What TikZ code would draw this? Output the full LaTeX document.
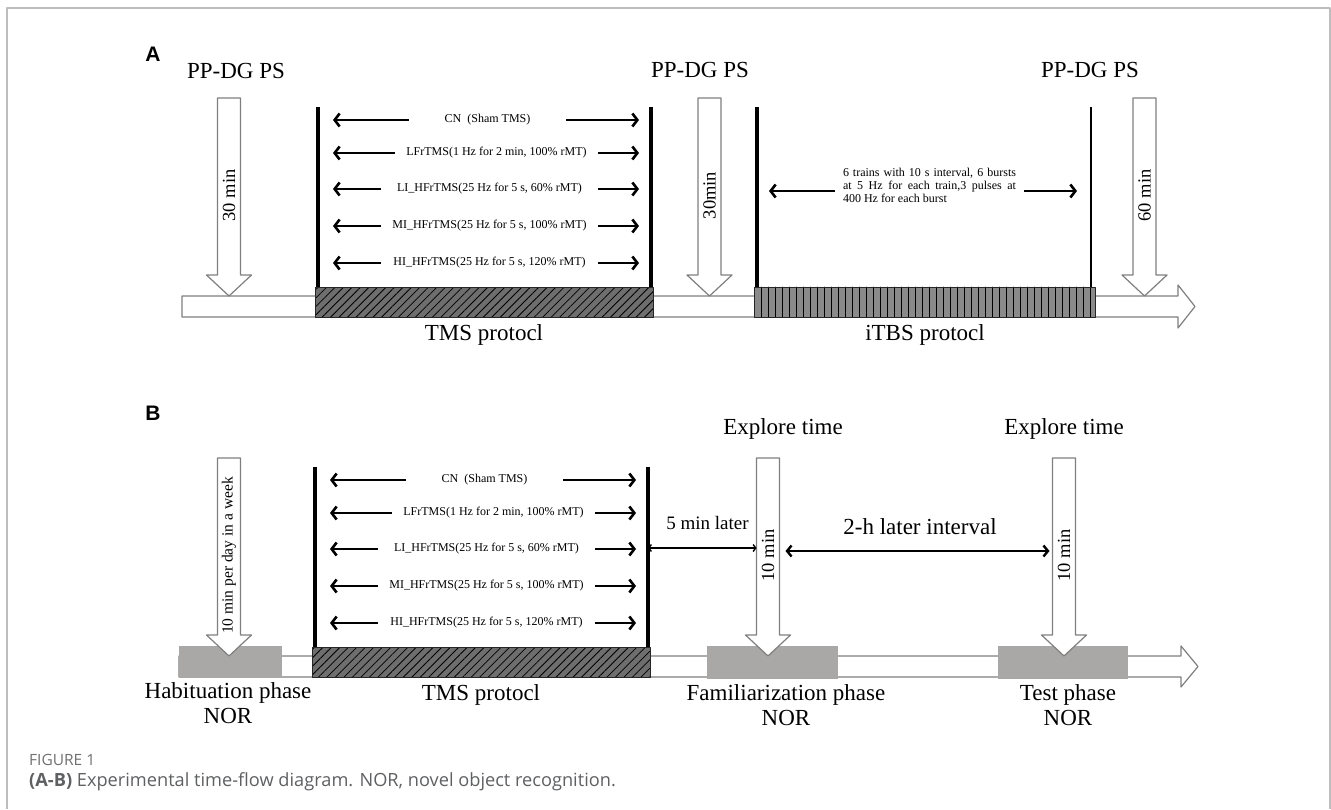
\documentclass[tikz,border=0pt]{standalone}
\usepackage{fontspec}
\setmainfont{Liberation Serif}
\newfontfamily\panelfont{Liberation Sans}
\newfontfamily\capfont{Open Sans}
\usepackage{xcolor}
\usetikzlibrary{arrows.meta,patterns.meta}
\definecolor{framegray}{HTML}{BDBDBD}
\definecolor{edgegray}{HTML}{7F7F7F}
\definecolor{phasegray}{HTML}{AAA7A7}
\definecolor{hatchgray}{HTML}{6E6E6E}
\definecolor{burstgray}{HTML}{8A8A8A}
\definecolor{capgray}{HTML}{5F6062}
\tikzset{
  every picture/.style={line join=round, line cap=round, >=Stealth},
  bigtext/.style={font=\fontsize{23}{25}\selectfont},
  midtext/.style={font=\fontsize{19}{21}\selectfont},
  droptext/.style={font=\fontsize{18.5}{20}\selectfont, inner sep=0pt},
  rowtext/.style={font=\fontsize{12}{13}\selectfont, inner sep=0pt},
  paneltag/.style={font=\panelfont\bfseries\fontsize{21}{23}\selectfont},
  timeline/.style={draw=edgegray, fill=white, line width=1.2pt},
  dropbox/.style={draw=edgegray, fill=white, line width=1.2pt},
  wall/.style={line width=3.2pt, line cap=butt},
  rowarrow/.style={line width=2.6pt, line cap=butt, -{Straight Barb[length=5pt,width=13pt]}},
  thinarrow/.style={line width=1.4pt, {Straight Barb[length=2.5pt,width=7pt]}-{Straight Barb[length=2.5pt,width=7pt]}},
  spanarrow/.style={line width=2.4pt, line cap=butt, {Straight Barb[length=4.5pt,width=11pt]}-{Straight Barb[length=4.5pt,width=11pt]}},
  barframe/.style={draw=black!85, line width=1pt},
}

% hollow arrow pointing down onto the time line: name, x, top, tip, text
\newcommand{\hollowdown}[5]{%
  \draw[dropbox] (#2-11.5,#3) -- (#2+11.5,#3) -- (#2+11.5,#4-21) -- (#2+22.5,#4-21)
    -- (#2,#4) -- (#2-22.5,#4-21) -- (#2-11.5,#4-21) -- cycle;
  \coordinate (#1w) at (#2-11.5,#3);
  \coordinate (#1e) at (#2+11.5,#3);
  \node[droptext, rotate=90] (#1) at (#2,{(#3+#4-21)/2+9}) {#5};}

% TMS protocol block (bar, two walls, five rows)
\newcommand{\tmsblock}[1]{%
  \fill[hatchgray] (315,287) rectangle (653,317);
  \fill[pattern={Lines[angle=45,distance=6pt,line width=0.8pt]}] (315,287) rectangle (653,317);
  \draw[barframe] (315,287) rectangle (653,317);
  \draw[wall] (318,107) coordinate (#1wl) -- (318,287);
  \draw[wall] (651,107) coordinate (#1wr) -- (651,287);
  \coordinate (#1tl) at (333,0);
  \coordinate (#1tr) at (639,0);
  \foreach \yy/\cx/\rw/\txt [count=\i] in {
      120/487.5/157/{CN\ \ (Sham TMS)},
      153/496.5/203/{LFrTMS(1 Hz for 2 min, 100\% rMT)},
      189/489.5/217/{LI\_HFrTMS(25 Hz for 5 s, 60\% rMT)},
      226/489.5/217/{MI\_HFrTMS(25 Hz for 5 s, 100\% rMT)},
      263/489.5/217/{HI\_HFrTMS(25 Hz for 5 s, 120\% rMT)}}
  {\node[rowtext, minimum width=\rw pt] (#1r\i) at (\cx,\yy) {\txt};
   \draw[rowarrow] (#1r\i.west) -- (#1r\i.west -| #1tl);
   \draw[rowarrow] (#1r\i.east) -- (#1r\i.east -| #1tr);}
  \node[bigtext] (#1bar) at (484,335) {TMS protocl};}

\begin{document}
\begin{tikzpicture}[x=1pt, y=-1pt]
\useasboundingbox (0,0) rectangle (1331,809);
\draw[framegray, line width=1.3pt, line cap=butt] (7,809) -- (7,8) -- (1330,8) -- (1330,809);

% panel A
\node[paneltag] (tagA) at (153,54) {A};
\draw[timeline] (182,296) -- (1178,296) -- (1178,285) -- (1195,306.5) -- (1178,328)
  -- (1178,317) -- (182,317) -- cycle;
\tmsblock{A}
\fill[burstgray] (754,287) rectangle (1095,317);
\foreach \sx in {761,768,...,1090}
  \draw[line width=0.8pt] (\sx,287) -- (\sx,317);
\draw[barframe] (754,287) rectangle (1095,317);
\draw[wall] (757,107) coordinate (iwl) -- (757,287);
\draw[wall, line width=2.4pt] (1091,107) coordinate (iwr) -- (1091,287);
\node[rowtext, text width=173pt, align=justify, inner xsep=8pt] (itbs) at (929.5,185)
  {6 trains with 10 s interval, 6 bursts\linebreak at 5 Hz for each train,3 pulses at\linebreak 400 Hz for each burst};
\coordinate (itl) at (769,0);
\coordinate (itr) at (1077,0);
\coordinate (iy) at (0,191);
\draw[rowarrow] (itbs.west |- iy) -- (itl |- iy);
\draw[rowarrow] (itbs.east |- iy) -- (itr |- iy);
\node[bigtext] (itbsbar) at (925,335) {iTBS protocl};
\hollowdown{da}{229}{98}{296}{30 min}
\hollowdown{db}{709.5}{98}{296}{30min}
\hollowdown{dc}{1144.5}{98}{296}{60 min}
\node[bigtext] (ppa) at (236,71) {PP-DG PS};
\node[bigtext] (ppb) at (700,70) {PP-DG PS};
\node[bigtext] (ppc) at (1090,70) {PP-DG PS};

% panel B
\node[paneltag] (tagB) at (153,413) {B};
\draw[timeline] (179,656) -- (1181,656) -- (1181,646) -- (1198,666.5) -- (1181,687)
  -- (1181,677) -- (179,677) -- cycle;
\begin{scope}[shift={(-3,360)}]
\tmsblock{B}
\end{scope}
\fill[phasegray] (179,646) rectangle (282,678);
\fill[phasegray] (707,646) rectangle (838,679);
\fill[phasegray] (998,646) rectangle (1128,679);
\hollowdown{hab}{229}{458}{656}{\fontsize{15.5}{17}\selectfont 10 min per day in a week}
\hollowdown{fam}{768}{458}{656}{10 min}
\hollowdown{tst}{1064}{458}{656}{10 min}
\node[bigtext] (exa) at (783,429) {Explore time};
\node[bigtext] (exb) at (1064,429) {Explore time};
\node[midtext] (five) at (707.5,523) {5 min later};
\node[bigtext] (twoh) at (920,527) {2-h later interval};
\coordinate (fy) at (0,548);
\coordinate (ty) at (0,551);
\draw[thinarrow] (Bwr |- fy) -- (famw |- fy);
\draw[spanarrow, shorten <=6pt, shorten >=3pt] (fame |- ty) -- (tstw |- ty);
\node[bigtext, align=center] (habl) at (228,703) {Habituation phase\\NOR};
\node[bigtext, align=center] (faml) at (786,705) {Familiarization phase\\NOR};
\node[bigtext, align=center] (tstl) at (1068,705) {Test phase\\NOR};

% caption
\node[anchor=base west, inner sep=0pt, text=capgray!90, font=\capfont\fontsize{15.5}{17}\selectfont] (figno) at (29,765) {FIGURE 1};
\node[anchor=base west, inner sep=0pt, text=capgray, font=\capfont\fontsize{18.2}{20}\selectfont] (cap) at (29,786)
  {\textbf{(A-B)} Experimental time-flow diagram. NOR, novel object recognition.};
\end{tikzpicture}
\end{document}
